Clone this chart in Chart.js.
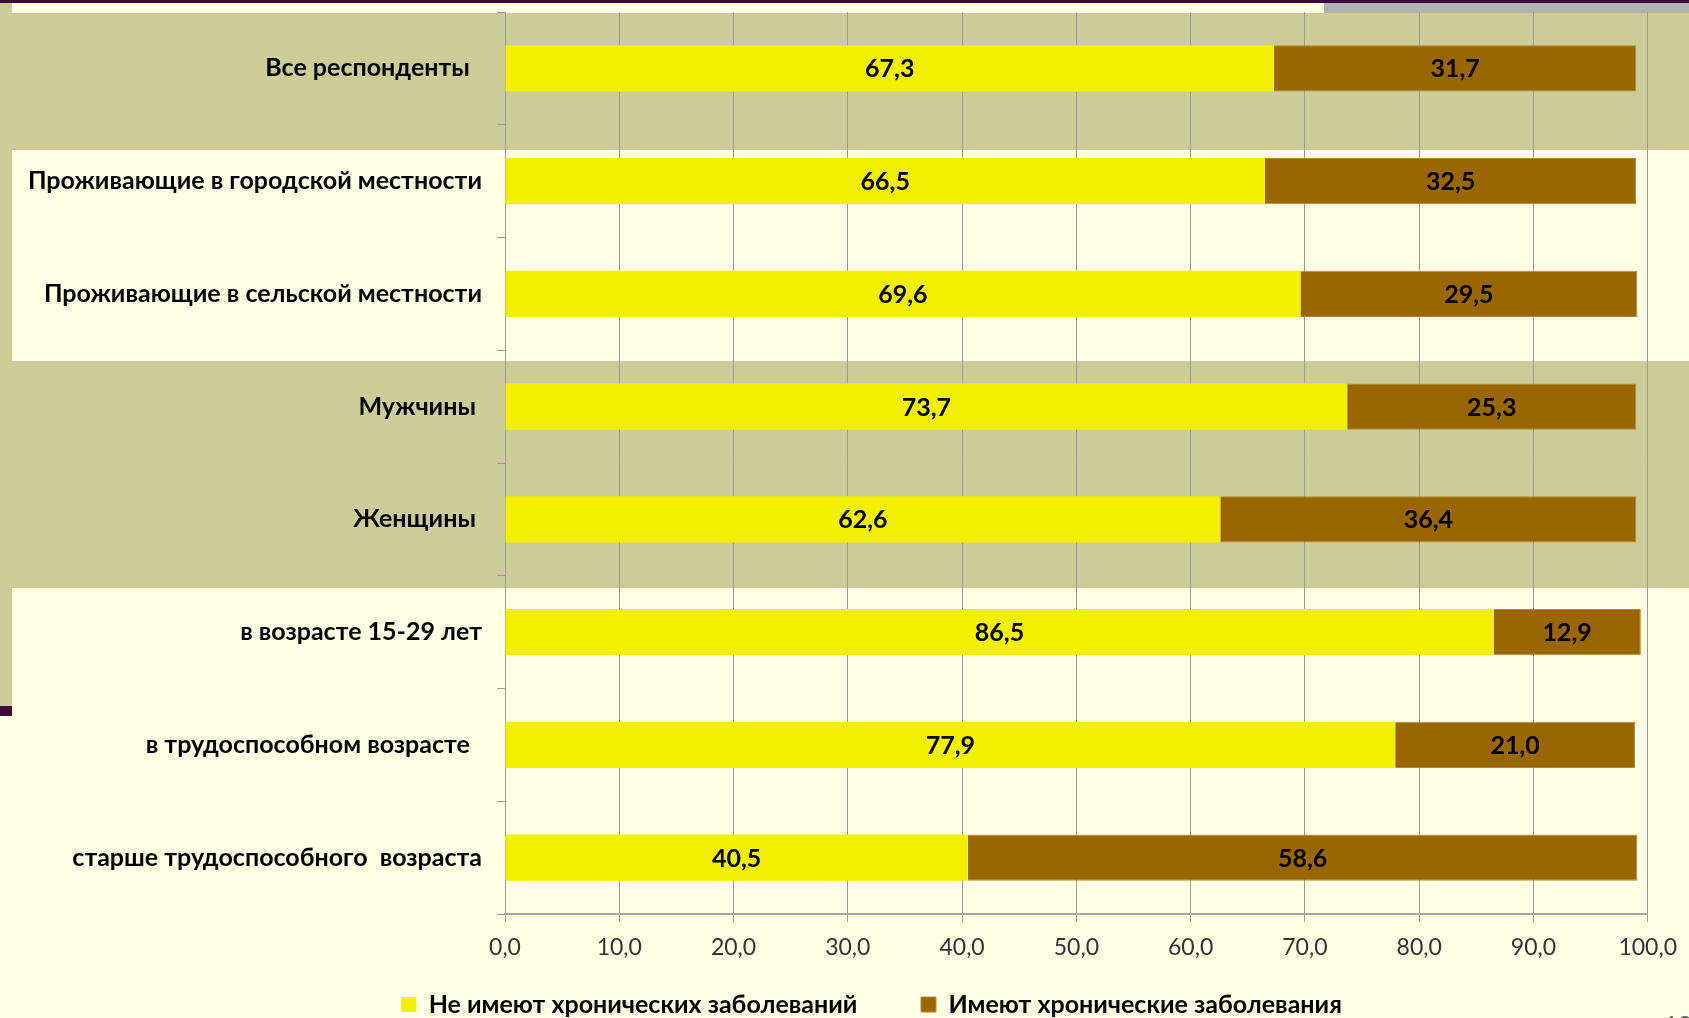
<!DOCTYPE html>
<html lang="ru">
  <head>
    <meta charset="UTF-8" />
    <title>Хронические заболевания</title>
    <script src="https://cdn.jsdelivr.net/npm/chart.js@4.4.0/dist/chart.umd.min.js"></script>
    <style>
      body {
        margin: 0;
        background-color: #ffffe5;
      }
      #chart-container {
        width: 1689px;
        height: 1018px;
      }
    </style>
  </head>
  <body>
    <div id="chart-container">
      <canvas id="myChart" width="1689" height="1018"></canvas>
    </div>

    <script>
      // категории (пробелы в конце - как в исходной таблице)
      const categories = [
        "Все респонденты  ",
        "Проживающие в городской местности",
        "Проживающие в сельской местности",
        "Мужчины ",
        "Женщины ",
        "в возрасте 15-29 лет",
        "в трудоспособном возрасте  ",
        "старше трудоспособного  возраста",
      ];
      const noChronic = [67.3, 66.5, 69.6, 73.7, 62.6, 86.5, 77.9, 40.5];
      const hasChronic = [31.7, 32.5, 29.5, 25.3, 36.4, 12.9, 21.0, 58.6];
      const seriesNames = [
        "Не имеют хронических заболеваний",
        "Имеют хронические заболевания",
      ];
      const xTicks = [0, 10, 20, 30, 40, 50, 60, 70, 80, 90, 100];

      function fmt(v) {
        return Number(v).toFixed(1).replace(".", ",");
      }

      // фон слайда
      const slideBackground = {
        id: "slideBackground",
        beforeDraw(chart) {
          const c = chart.ctx;
          const w = chart.width;
          c.save();
          c.fillStyle = "#ffffe5";
          c.fillRect(0, 0, w, chart.height);
          c.fillStyle = "#cccc99";
          c.fillRect(0, 3, 12, 703);
          c.fillRect(0, 13, w, 137);
          c.fillRect(0, 361, w, 227);
          c.fillStyle = "#b2b2b2";
          c.fillRect(1324, 3, w - 1324, 10);
          c.fillStyle = "#3b0b3b";
          c.fillRect(0, 0, w, 3);
          c.fillRect(0, 706, 12, 10);
          c.fillStyle = "#595959";
          c.font = "24px Lato";
          c.textBaseline = "top";
          c.fillText("12", 1664, 1013);
          c.restore();
        },
        // легенда на слайде немного правее центра
        afterLayout(chart) {
          chart.legend.left += 13;
          chart.legend.right += 13;
        },
      };

      // подписи значений внутри столбцов
      const barValues = {
        id: "barValues",
        afterDatasetsDraw(chart) {
          const c = chart.ctx;
          c.save();
          c.font = "bold 25px Lato";
          c.fillStyle = "#000";
          c.textAlign = "center";
          c.textBaseline = "middle";
          chart.data.datasets.forEach(function (ds, i) {
            chart.getDatasetMeta(i).data.forEach(function (bar, j) {
              c.fillText(fmt(ds.data[j]), (bar.x + bar.base) / 2, bar.y + 1);
            });
          });
          c.restore();
        },
      };

      const ctx = document.getElementById("myChart").getContext("2d");
      new Chart(ctx, {
        type: "bar",
        data: {
          labels: categories,
          datasets: [
            {
              label: seriesNames[0],
              data: noChronic,
              backgroundColor: "#f2f000",
              borderWidth: 0,
            },
            {
              label: seriesNames[1],
              data: hasChronic,
              backgroundColor: "#996600",
              borderColor: "#b8862e",
              borderWidth: 1,
            },
          ],
        },
        plugins: [slideBackground, barValues],
        options: {
          indexAxis: "y",
          responsive: false,
          animation: false,
          categoryPercentage: 1,
          barPercentage: 0.41,
          layout: {
            padding: { left: 28, right: 0, top: 12, bottom: -9 },
          },
          plugins: {
            tooltip: { enabled: false },
            legend: {
              position: "bottom",
              labels: {
                color: "#000",
                font: { family: "Lato", size: 25, weight: "bold" },
                boxWidth: 15,
                boxHeight: 15,
                padding: 23,
                generateLabels(chart) {
                  const items =
                    Chart.defaults.plugins.legend.labels.generateLabels(chart);
                  items[0].text += "\u2003\u2003\u2009";
                  return items;
                },
              },
            },
          },
          scales: {
            x: {
              stacked: true,
              min: 0,
              max: 100,
              afterBuildTicks(scale) {
                scale.ticks = xTicks.map((v) => ({ value: v }));
              },
              afterFit(scale) {
                scale.height = 55;
              },
              grid: {
                color: "#9a9a9a",
                lineWidth: 1,
                tickLength: 8,
              },
              border: { color: "#a6a6a6", width: 2 },
              ticks: {
                color: "#333",
                padding: 12,
                font: { family: "Lato", size: 23 },
                callback: (v) => fmt(v),
              },
            },
            y: {
              stacked: true,
              afterFit(scale) {
                scale.width = 505 - 28;
                scale.paddingTop = 0;
                scale.paddingBottom = 0;
              },
              grid: {
                drawOnChartArea: false,
                color: "#9a9a9a",
                tickLength: 8,
              },
              border: { color: "#9a9a9a", width: 1 },
              ticks: {
                color: "#000",
                padding: 15,
                font: { family: "Lato", size: 25, weight: "bold" },
              },
            },
            // пустое поле справа от области графика
            yRight: {
              type: "category",
              position: "right",
              afterFit(scale) {
                scale.width = 38;
                scale.paddingTop = 0;
                scale.paddingBottom = 0;
              },
              grid: { display: false },
              border: { display: false },
              ticks: { display: false },
            },
          },
        },
      });
    </script>
  </body>
</html>
